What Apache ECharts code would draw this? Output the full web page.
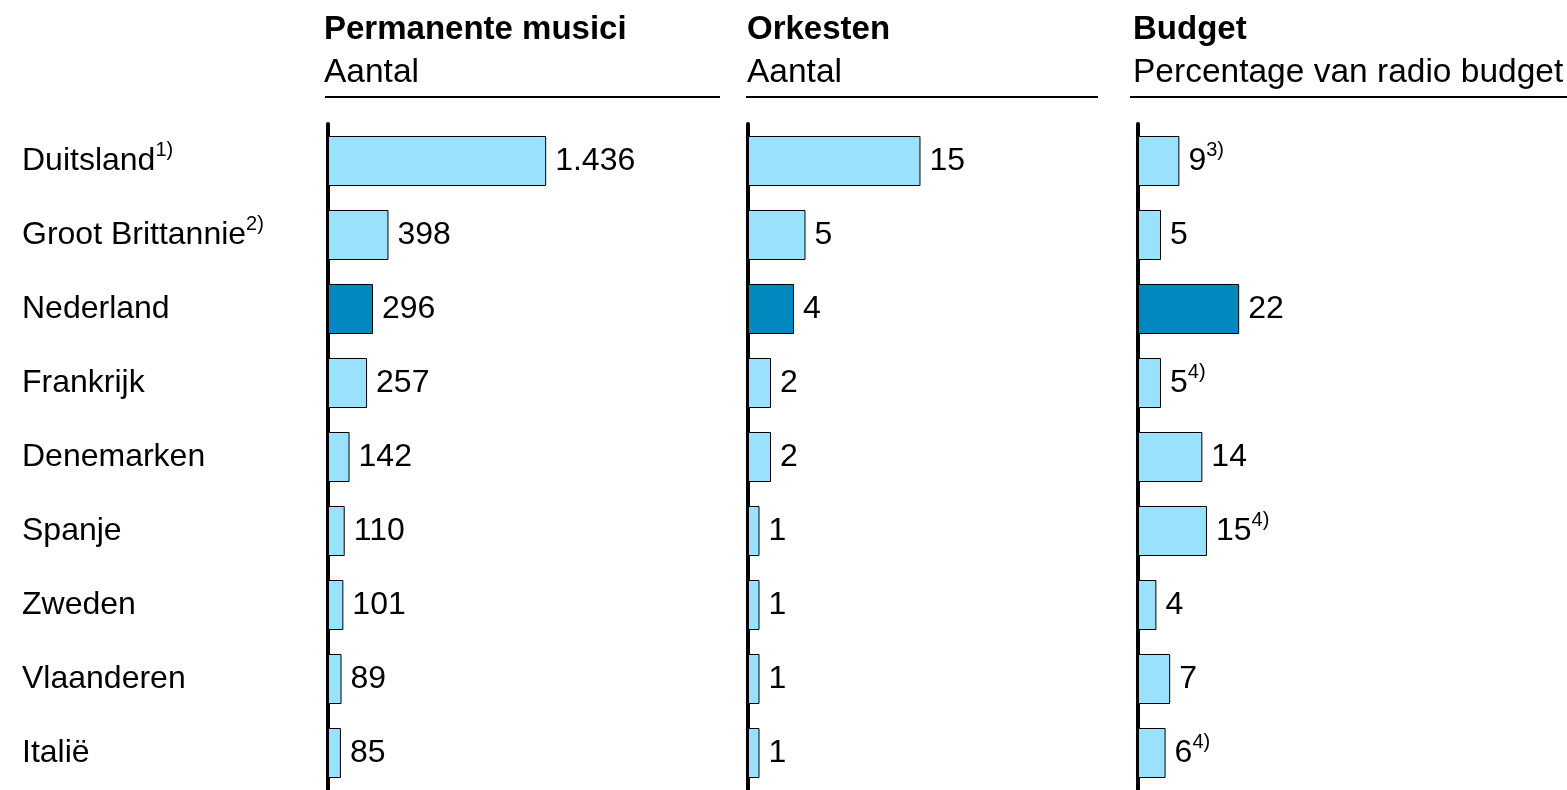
<!DOCTYPE html>
<html>
<head>
<meta charset="utf-8">
<style>
  html, body { margin: 0; padding: 0; background: #ffffff; }
  #chart { width: 1567px; height: 790px; }
</style>
<script src="https://cdn.jsdelivr.net/npm/echarts@6/dist/echarts.min.js"></script>
</head>
<body>
<div id="chart"></div>
<script>
// Countries, top to bottom, with their footnote markers
const countries = ['Duitsland', 'Groot Brittannie', 'Nederland', 'Frankrijk', 'Denemarken', 'Spanje', 'Zweden', 'Vlaanderen', 'Italië'];
const countryNotes = ['1)', '2)', '', '', '', '', '', '', ''];

// Permanente musici (aantal)
const musici = [1436, 398, 296, 257, 142, 110, 101, 89, 85];
// Orkesten (aantal)
const orkesten = [15, 5, 4, 2, 2, 1, 1, 1, 1];
// Budget (percentage van radio budget) and its footnote markers
const budget = [9, 5, 22, 5, 14, 15, 4, 7, 6];
const budgetNotes = ['3)', '', '', '4)', '', '4)', '', '', '4)'];

// Panel headers
const panelTitles = ['Permanente musici', 'Orkesten', 'Budget'];
const panelSubtitles = ['Aantal', 'Aantal', 'Percentage van radio budget'];

const highlightCountry = 'Nederland';

const FONT = "'Liberation Sans', Arial, Helvetica, sans-serif";
const LIGHT = '#99e1fd';
const DARK = '#0088bf';
const LABEL_SIZE = 32;
const SUP_SIZE = 20;

const chart = echarts.init(document.getElementById('chart'), null, { renderer: 'canvas' });

// Dutch thousands separator
function fmt(v) {
  return String(v).replace(/\B(?=(\d{3})+(?!\d))/g, '.');
}

const rich = {
  n: { fontSize: LABEL_SIZE, fontFamily: FONT, color: '#000', lineHeight: 42 },
  s: { fontSize: SUP_SIZE, fontFamily: FONT, color: '#000', lineHeight: 21, verticalAlign: 'top' }
};

function withNote(text, note) {
  return note ? '{n|' + text + '}{s|' + note + '}' : '{n|' + text + '}';
}

// Panel geometry: left edge (axis), width, and axis max
const panels = [
  { left: 328, width: 392, max: 2580, values: musici, notes: null },
  { left: 748, width: 372, max: 32.35, values: orkesten, notes: null },
  { left: 1138, width: 429, max: 93.3, values: budget, notes: budgetNotes }
];

const GRID_TOP = 124;
const GRID_HEIGHT = 669;

const grids = panels.map(p => ({ left: p.left, top: GRID_TOP, width: p.width, height: GRID_HEIGHT, containLabel: false }));

const xAxes = panels.map((p, i) => ({
  type: 'value', gridIndex: i, min: 0, max: p.max, show: false,
  splitLine: { show: false }
}));

const yAxes = panels.map((p, i) => ({
  type: 'category', gridIndex: i, data: countries, inverse: true,
  axisLine: { show: true, lineStyle: { color: '#000', width: 4 } },
  axisTick: { show: false },
  splitLine: { show: false },
  axisLabel: i === 0 ? {
    show: true,
    align: 'left',
    margin: 306,
    formatter: (val, idx) => withNote(val, countryNotes[idx]),
    rich: rich
  } : { show: false }
}));

const series = panels.map((p, i) => ({
  type: 'bar',
  xAxisIndex: i,
  yAxisIndex: i,
  barWidth: 50,
  animation: false,
  data: p.values.map((v, k) => ({
    value: v,
    itemStyle: {
      color: countries[k] === highlightCountry ? DARK : LIGHT,
      borderColor: '#000',
      borderWidth: 1
    }
  })),
  label: {
    show: true,
    position: 'right',
    distance: 9,
    formatter: (params) => withNote(fmt(params.value), p.notes ? p.notes[params.dataIndex] : ''),
    rich: rich
  }
}));

// Headers: bold title, subtitle and rule above each panel
const headerX = [324, 747, 1133];
const ruleSpans = [[325, 720], [746, 1098], [1130, 1567]];
const graphics = [];
panelTitles.forEach((t, i) => {
  graphics.push({
    type: 'text', left: headerX[i], top: 13,
    style: { text: t, font: 'bold 33px ' + FONT, fill: '#000' }
  });
  graphics.push({
    type: 'text', left: headerX[i], top: 56,
    style: { text: panelSubtitles[i], font: '33.5px ' + FONT, fill: '#000' }
  });
  graphics.push({
    type: 'line',
    shape: { x1: ruleSpans[i][0], y1: 97, x2: ruleSpans[i][1], y2: 97 },
    style: { stroke: '#000', lineWidth: 2 }
  });
});

chart.setOption({
  backgroundColor: '#ffffff',
  animation: false,
  textStyle: { fontFamily: FONT },
  grid: grids,
  xAxis: xAxes,
  yAxis: yAxes,
  series: series,
  graphic: graphics
});
</script>
</body>
</html>
